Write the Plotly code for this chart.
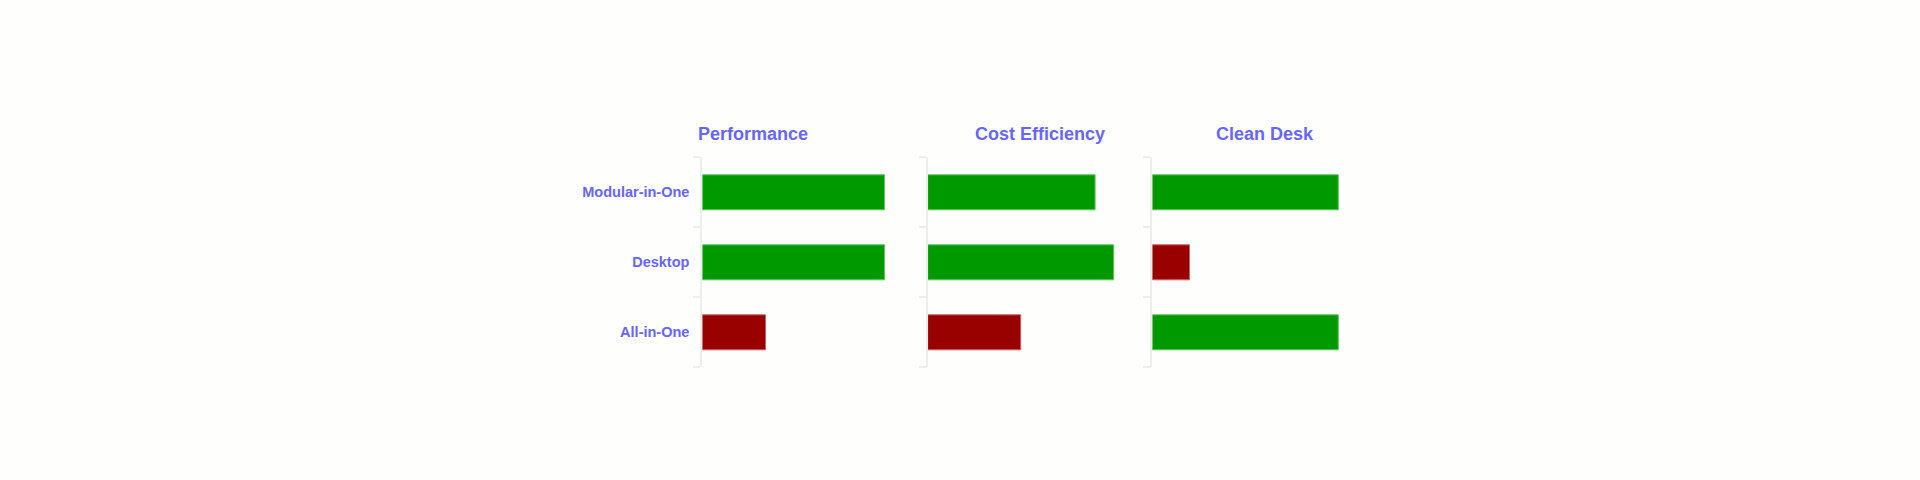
import plotly.graph_objects as go

categories = ["Modular-in-One", "Desktop", "All-in-One"]
panel_titles = ["Performance", "Cost Efficiency", "Clean Desk"]
performance = [9.8, 9.8, 3.4]
cost_efficiency = [9.0, 10.0, 5.0]
clean_desk = [10.0, 2.0, 10.0]
good_flags = {
    "Performance": [True, True, False],
    "Cost Efficiency": [True, True, False],
    "Clean Desk": [True, False, True],
}
series = [performance, cost_efficiency, clean_desk]

W, H = 1920, 480
GREEN, RED = "#009900", "#990000"
GREEN_EDGE, RED_EDGE = "#66c266", "#c26666"
TITLE_COLOR = "#6666ff"
FONT = "Liberation Sans, Arial, sans-serif"

left_px = [702.3, 927.7, 1152.3]
panel_w = 195.3
title_left_px = [695.5, 972.5, 1214.0]
y_top, y_bot = 157.3, 367.3

fig = go.Figure()
for i, (name, vals) in enumerate(zip(panel_titles, series)):
    flags = good_flags[name]
    xa = "x" if i == 0 else f"x{i+1}"
    ya = "y" if i == 0 else f"y{i+1}"
    fig.add_trace(go.Bar(
        x=vals, y=categories, orientation="h",
        xaxis=xa, yaxis=ya,
        marker=dict(color=[GREEN if f else RED for f in flags],
                    line=dict(color=[GREEN_EDGE if f else RED_EDGE for f in flags], width=1)),
        showlegend=False, hoverinfo="x+y",
    ))
    xkey = "xaxis" if i == 0 else f"xaxis{i+1}"
    ykey = "yaxis" if i == 0 else f"yaxis{i+1}"
    fig.layout[xkey] = dict(
        domain=[left_px[i] / W, (left_px[i] + panel_w) / W],
        range=[0, 10.5], visible=False, fixedrange=True,
        anchor=ya,
    )
    fig.layout[ykey] = dict(
        domain=[1 - y_bot / H, 1 - y_top / H],
        anchor=xa,
        categoryorder="array", categoryarray=categories[::-1],
        range=[-0.5, 2.5],
        showline=True, linecolor="#eeeeee", linewidth=2,
        ticks="outside", tickson="boundaries", ticklen=7, tickcolor="#eeeeee", tickwidth=2,
        ticklabelstandoff=8,
        showgrid=False, zeroline=False,
        showticklabels=(i == 0),
        tickfont=dict(family=FONT, size=14.5, color=TITLE_COLOR, weight="bold"),
        fixedrange=True,
    )
    fig.add_annotation(
        text=f"<b>{name}</b>", xref="paper", yref="paper",
        x=title_left_px[i] / W, y=1 - 134 / H,
        xanchor="left", yanchor="middle", showarrow=False,
        font=dict(family=FONT, size=18, color=TITLE_COLOR),
    )

fig.update_layout(
    width=W, height=H,
    margin=dict(l=0, r=0, t=0, b=0),
    paper_bgcolor="#fefefd", plot_bgcolor="#fefefd",
    bargap=0.5,
)
fig.write_html(
    "out.html",
    config={"displayModeBar": False},
    post_script="document.body.style.margin='0';document.body.style.background='#fefefd';",
)
